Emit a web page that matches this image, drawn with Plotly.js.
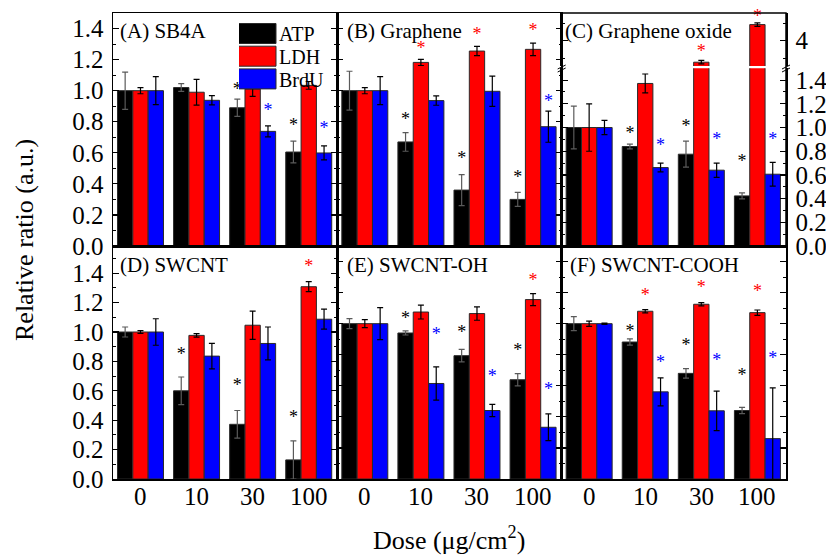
<!DOCTYPE html>
<html><head><meta charset="utf-8">
<script src="https://cdn.plot.ly/plotly-3.0.1.min.js"></script>
<style>body{margin:0;background:#fff}#chart{width:826px;height:555px}</style>
</head><body><div id="chart"></div>
<script>
// ---------- data ----------
const doses = ['0', '10', '30', '100'];
const panelNames = ['(A) SB4A', '(B) Graphene', '(C) Graphene oxide', '(D) SWCNT', '(E) SWCNT-OH', '(F) SWCNT-COOH'];
const seriesNames = ['ATP', 'LDH', 'BrdU'];

// rows: panels A..F ; columns: doses 0,10,30,100
const atpMean = [
  [1.00, 1.02, 0.89, 0.605],
  [1.00, 0.67, 0.36, 0.30],
  [1.00, 0.84, 0.775, 0.423],
  [1.00, 0.60, 0.372, 0.13],
  [1.00, 0.94, 0.794, 0.639],
  [1.00, 0.882, 0.68, 0.441]
];
const atpErr = [
  [0.12, 0.025, 0.055, 0.07],
  [0.125, 0.06, 0.10, 0.045],
  [0.18, 0.02, 0.11, 0.025],
  [0.034, 0.094, 0.094, 0.13],
  [0.032, 0.013, 0.04, 0.04],
  [0.045, 0.02, 0.03, 0.02]
];
const ldhMean = [
  [1.00, 0.99, 1.01, 1.034],
  [1.00, 1.182, 1.255, 1.266],
  [1.00, 1.372, 3.38, 4.465],
  [1.00, 0.977, 1.046, 1.308],
  [1.00, 1.075, 1.065, 1.155],
  [1.00, 1.08, 1.125, 1.071]
];
const ldhErr = [
  [0.02, 0.083, 0.047, 0.025],
  [0.02, 0.02, 0.03, 0.04],
  [0.20, 0.08, 0.05, 0.05],
  [0.01, 0.012, 0.096, 0.034],
  [0.026, 0.045, 0.043, 0.039],
  [0.017, 0.011, 0.01, 0.017]
];
const brduMean = [
  [1.00, 0.938, 0.738, 0.599],
  [1.00, 0.936, 0.996, 0.768],
  [1.00, 0.662, 0.64, 0.606],
  [1.00, 0.836, 0.922, 1.087],
  [1.00, 0.615, 0.441, 0.333],
  [1.00, 0.561, 0.439, 0.26]
];
const brduErr = [
  [0.09, 0.03, 0.035, 0.045],
  [0.09, 0.03, 0.097, 0.10],
  [0.06, 0.037, 0.06, 0.10],
  [0.09, 0.087, 0.112, 0.068],
  [0.103, 0.107, 0.039, 0.086],
  [0.004, 0.09, 0.127, 0.327]
];
// significance asterisks: level (in axis units) where each star sits, null = none
const atpStar = [
  [null, null, 1.00, 0.768],
  [null, 0.811, 0.554, 0.436],
  [null, 0.938, 1.00, 0.701],
  [null, 0.84, 0.628, 0.411],
  [null, 1.024, 0.935, 0.822],
  [null, 0.942, 0.856, 0.662]
];
const ldhStar = [
  [null, null, null, null],
  [null, 1.266, 1.358, 1.384],
  [null, 1.563, 3.66, 4.677],
  [null, null, null, 1.441],
  [null, null, null, 1.273],
  [null, 1.176, 1.228, 1.198]
];
const brduStar = [
  [null, null, 0.869, 0.751],
  [null, null, null, 0.921],
  [null, 0.839, 0.887, 0.887],
  [null, null, null, null],
  [null, 0.925, 0.656, 0.57],
  [null, 0.746, 0.757, 0.768]
];

// ---------- styling ----------
const FONT = 'Liberation Serif';
const colors = ['#000000', '#ff0000', '#0000ff'];
const errColors = ['#5a5a5a', '#000000', '#000000'];
const starColors = ['#000000', '#ff0000', '#0000ff'];
const means = [atpMean, ldhMean, brduMean];
const errs = [atpErr, ldhErr, brduErr];
const stars = [atpStar, ldhStar, brduStar];

const W = 826, H = 555, ML = 113, MR = 40, MT = 13, MB = 76;
const PW = W - ML - MR, PH = H - MT - MB;
const px2x = p => (p - ML) / PW;
const px2y = p => (H - MB - p) / PH;

const yMax = [1.5, 1.5, 1.5, 1.585, 1.5, 1.5];
const upperRange = [3.27, 4.8];
const BARGAP = 0.18;
const barW = (1 - BARGAP) / 3;
const xIdx = doses.map((d, i) => i);

const data = [];
const layout = {
  width: W, height: H,
  margin: {l: ML, r: MR, t: MT, b: MB},
  paper_bgcolor: '#fff', plot_bgcolor: '#fff',
  font: {family: FONT, color: '#000', size: 20},
  barmode: 'group', bargap: BARGAP, bargroupgap: 0,
  showlegend: true,
  legend: {
    x: px2x(239), y: px2y(14), xanchor: 'left', yanchor: 'top',
    bgcolor: 'rgba(0,0,0,0)', borderwidth: 0, font: {family: FONT, size: 20, color: '#000'},
    tracegroupgap: 0, itemwidth: 30
  },
  annotations: [], shapes: []
};

function axSuffix(p) { return p === 0 ? '' : String(p + 1); }

for (let p = 0; p < 6; p++) {
  const col = p % 3, row = Math.floor(p / 3);
  const sfx = axSuffix(p);
  layout['xaxis' + sfx] = {
    domain: [col / 3, (col + 1) / 3], range: [-0.49, 3.51], anchor: 'y' + sfx,
    tickmode: 'array', tickvals: xIdx, ticktext: doses, showticklabels: false,
    ticks: '', ticklen: 0, showline: true, linecolor: '#000', linewidth: 1.5,
    mirror: p === 2 ? false : true, showgrid: false, zeroline: false,
    tickfont: {family: FONT, size: 25, color: '#000'}
  };
  layout['yaxis' + sfx] = {
    domain: p === 2 ? [0.5, px2y(68.3)] : (row === 0 ? [0.5, 1] : [0, 0.5]),
    range: [0, yMax[p]], anchor: 'x' + sfx,
    tick0: 0, dtick: 0.2, tickformat: '.1f',
    ticks: 'inside', ticklen: 6, tickwidth: 1.2, tickcolor: '#000',
    minor: {ticks: 'inside', ticklen: 3, dtick: 0.1, tickwidth: 1, tickcolor: '#000'},
    showline: true, linecolor: '#000', linewidth: 1.5, mirror: 'ticks',
    showticklabels: col === 0 || p === 2, side: p === 2 ? 'right' : 'left',
    showgrid: false, zeroline: false,
    tickfont: {family: FONT, size: 25, color: '#000'}, ticklabelstandoff: 3
  };
  // dose labels under the bottom row, placed on the x scale of each panel
  if (row === 1) {
    doses.forEach((d, i) => {
      layout.annotations.push({
        text: d, xref: 'x' + sfx, yref: 'paper', x: xIdx[i], y: px2y(496.5),
        xanchor: 'center', yanchor: 'middle', showarrow: false,
        font: {family: FONT, size: 25, color: '#000'}
      });
    });
  }
}
// upper (broken) segment of panel C
layout.yaxis7 = {
  domain: [px2y(66), 1], range: upperRange, anchor: 'x3',
  tick0: 0, dtick: 1, tickformat: 'd',
  ticks: 'inside', ticklen: 6, tickwidth: 1.2, tickcolor: '#000',
  minor: {ticks: 'inside', ticklen: 3, dtick: 0.5, tickwidth: 1, tickcolor: '#000'},
  showline: true, linecolor: '#000', linewidth: 1.5, mirror: 'ticks',
  showticklabels: true, side: 'right', showgrid: false, zeroline: false,
  tickfont: {family: FONT, size: 25, color: '#000'}, ticklabelstandoff: 3
};

function addBars(p, yaxisName, legendOn) {
  const sfx = axSuffix(p);
  for (let s = 0; s < 3; s++) {
    data.push({
      type: 'bar', name: seriesNames[s], legendgroup: seriesNames[s],
      showlegend: legendOn,
      x: xIdx, y: means[s][p],
      xaxis: 'x' + sfx, yaxis: yaxisName,
      marker: {color: colors[s], line: {color: '#2a2a2a', width: 1}},
      error_y: {type: 'data', array: errs[s][p], visible: true,
                color: errColors[s], thickness: 1.2, width: 3},
      hoverinfo: 'skip'
    });
  }
}

for (let p = 0; p < 6; p++) {
  addBars(p, 'y' + axSuffix(p), p === 0);
}
addBars(2, 'y7', false);

// asterisks
for (let p = 0; p < 6; p++) {
  const sfx = axSuffix(p);
  for (let s = 0; s < 3; s++) {
    const lower = {x: [], y: []}, upper = {x: [], y: []};
    stars[s][p].forEach((lv, i) => {
      if (lv === null) return;
      const xv = xIdx[i] + (s - 1) * barW;
      if (p === 2 && lv >= upperRange[0]) { upper.x.push(xv); upper.y.push(lv); }
      else { lower.x.push(xv); lower.y.push(lv); }
    });
    [[lower, 'y' + sfx], [upper, 'y7']].forEach(([pts, ya]) => {
      if (!pts.x.length) return;
      data.push({
        type: 'scatter', mode: 'text', x: pts.x, y: pts.y,
        text: pts.x.map(() => '*'), textposition: 'middle center',
        textfont: {family: FONT, size: 18, color: starColors[s]},
        xaxis: 'x' + sfx, yaxis: ya, cliponaxis: false,
        showlegend: false, hoverinfo: 'skip'
      });
    });
  }
}

// panel labels
const labelPos = [[118, 31], [345, 31], [562.5, 31], [118, 264.5], [345, 264.5], [567.5, 264.5]];
panelNames.forEach((t, p) => {
  layout.annotations.push({
    text: t, xref: 'paper', yref: 'paper', x: px2x(labelPos[p][0]), y: px2y(labelPos[p][1]),
    xanchor: 'left', yanchor: 'middle', showarrow: false,
    font: {family: FONT, size: 21, color: '#000'}
  });
});
// axis titles
layout.annotations.push({
  text: 'Relative ratio (a.u.)', xref: 'paper', yref: 'paper',
  x: px2x(25), y: px2y(240), textangle: -90, xanchor: 'center', yanchor: 'middle',
  showarrow: false, font: {family: FONT, size: 26, color: '#000'}
});
layout.annotations.push({
  text: 'Dose (μg/cm<sup>2</sup>)', xref: 'paper', yref: 'paper',
  x: px2x(449), y: px2y(538), xanchor: 'center', yanchor: 'middle',
  showarrow: false, font: {family: FONT, size: 26, color: '#000'}
});

// frame of panel C (its two segments share one box)
layout.shapes.push({type: 'rect', xref: 'paper', yref: 'paper', x0: 2 / 3, x1: 1, y0: 0.5, y1: 1,
  line: {color: '#000', width: 1.5}, fillcolor: 'rgba(0,0,0,0)'});
// axis-break marks
[2 / 3, 1].forEach(xp => {
  [0, 3].forEach(dy => {
    layout.shapes.push({
      type: 'line', xref: 'paper', yref: 'paper',
      xsizemode: 'pixel', xanchor: xp, x0: -4, x1: 4,
      ysizemode: 'pixel', yanchor: px2y(66), y0: -3 - dy, y1: 1 - dy,
      line: {color: '#000', width: 1}
    });
  });
});

Plotly.newPlot('chart', data, layout, {staticPlot: true, displayModeBar: false}).then(gd => {
  // enlarge legend swatches to the wide boxes of the original and tighten the rows
  const items = gd.querySelectorAll('.legend .traces');
  let y0 = null;
  items.forEach((it, i) => {
    const tr = it.getAttribute('transform') || '';
    const m = tr.match(/translate\(([-\d.]+)[ ,]+([-\d.]+)\)/);
    if (m && y0 === null) y0 = parseFloat(m[2]);
    if (m) it.setAttribute('transform', 'translate(' + m[1] + ',' + (y0 + i * 22.7) + ')');
    it.querySelectorAll('.legendpoints path').forEach(pth => {
      pth.setAttribute('d', 'M-23,-10H17V10H-23Z');
    });
  });
});
</script>
</body></html>
